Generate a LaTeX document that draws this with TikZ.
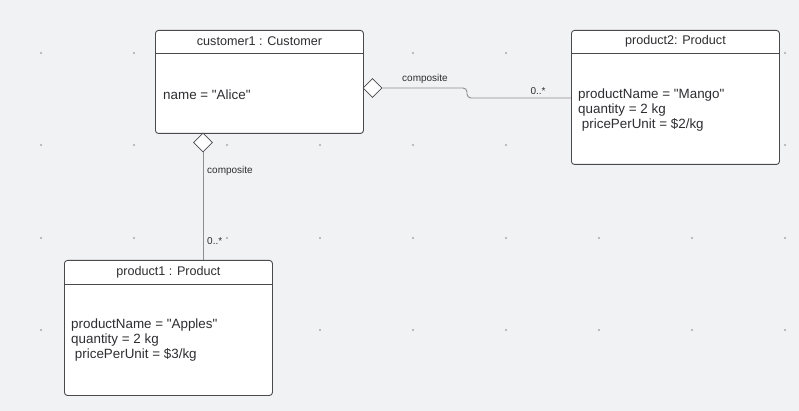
\documentclass[tikz,border=0pt]{standalone}
\usepackage{fontspec}
\setmainfont{Liberation Sans}[Ligatures=TeXOff]
\usepackage{tikz}
\usetikzlibrary{shapes.geometric,calc}
\definecolor{canvas}{HTML}{F1F2F4}
\definecolor{edge}{HTML}{4A4A4E}
\definecolor{wire}{HTML}{8E8E92}
\definecolor{dotc}{HTML}{ABABAF}
\definecolor{ink}{HTML}{2E2E32}

\begin{document}
\begin{tikzpicture}[
    x=1pt, y=-1pt,
    objbox/.style={draw=edge, fill=white, rounded corners=3pt, line width=0.9pt,
                   anchor=north west, inner sep=0pt, minimum width=208pt},
    sepline/.style={draw=edge, line width=0.9pt},
    titletxt/.style={font=\fontsize{12.6}{14}\selectfont, text=ink},
    bodytxt/.style={font=\fontsize{13.4}{15}\selectfont, text=ink, align=left,
                    anchor=west, inner sep=0pt},
    dia/.style={diamond, draw=edge, fill=white, line width=0.8pt, inner sep=0pt,
                minimum width=19pt, minimum height=19pt},
    wireln/.style={draw=wire, line width=0.9pt},
    tag/.style={font=\fontsize{10}{12}\selectfont, text=ink, inner sep=0pt}
  ]
  % canvas
  \fill[canvas] (0,0) rectangle (799,411);
  \useasboundingbox (0,0) rectangle (799,411);
  \foreach \gx in {41,134,227,320,413,506,599,692,785}
    \foreach \gy in {53,145,238,330}
      \fill[dotc] (\gx,\gy) circle (1.2pt);

  %% --- customer1 ---
  \node[objbox, minimum height=103pt] (cust) at (155,30) {};
  \draw[sepline] ($(cust.north west)+(0,23)$) -- ($(cust.north east)+(0,23)$);
  \node[titletxt] (custT) at ($(cust.north)+(0,11.5)$) {customer1 : Customer};
  \node[bodytxt] (custB) at (163,95) {name = "Alice"};

  %% --- product2 ---
  \node[objbox, minimum height=134pt] (prodB) at (571,30) {};
  \draw[sepline] ($(prodB.north west)+(0,23)$) -- ($(prodB.north east)+(0,23)$);
  \node[titletxt] (prodBT) at ($(prodB.north)+(0,11.5)$) {product2: Product};
  \node[bodytxt] (prodBB) at (578,110)
        {productName = "Mango"\\quantity = 2 kg\\\ pricePerUnit = \$2/kg};

  %% --- product1 ---
  \node[objbox, minimum height=135pt] (prodA) at (64,260) {};
  \draw[sepline] ($(prodA.north west)+(0,24)$) -- ($(prodA.north east)+(0,24)$);
  \node[titletxt] (prodAT) at ($(prodA.north)+(0,12)$) {product1 : Product};
  \node[bodytxt] (prodAB) at (71,340)
        {productName = "Apples"\\quantity = 2 kg\\\ pricePerUnit = \$3/kg};

  %% --- composite links ---
  % customer1 -> product2
  \node[dia] (diaB) at (372.5,88) {};
  \draw[wireln, rounded corners=4pt] (diaB.east) -- (467,88) -- (467,98)
        -- (prodB.west |- 0,98);
  \node[tag] (compB) at (425,79) {composite};
  \node[tag] (multB) at (538,91) {0..*};
  % customer1 -> product1
  \node[dia] (diaA) at (203,142.5) {};
  \draw[wireln] (diaA.south) -- (diaA.south |- prodA.north);
  \node[tag, anchor=west] (compA) at (207,171) {composite};
  \node[tag, anchor=west] (multA) at (207,241) {0..*};
\end{tikzpicture}
\end{document}
